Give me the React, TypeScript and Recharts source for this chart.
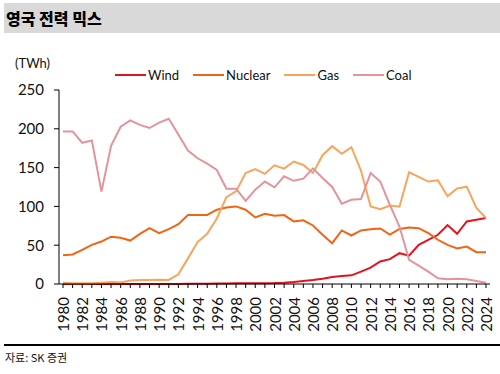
import { LineChart, Line, XAxis, YAxis } from 'recharts'

const years = Array.from({ length: 45 }, (_, i) => String(1980 + i))

const wind = [
  0, 0, 0, 0, 0, 0, 0, 0, 0, 0, 0,
  0.1, 0.1, 0.2, 0.3, 0.4, 0.5, 0.7, 0.9, 0.9, 0.9,
  1, 1.2, 1.7, 2.6, 3.9, 5.2, 6.9, 9, 10.3, 11.2,
  16, 21, 29, 32, 39.7, 36.6, 50.4, 57, 63.4, 75.9,
  64.7, 80.6, 82.8, 85,
]
const nuclear = [
  37, 38, 44, 50.4, 54.7, 61, 59.5, 56, 64.6, 72, 65.5,
  70.7, 77, 89, 88.8, 89, 95.7, 98.7, 100, 95.7, 85.8,
  90.5, 88, 88.8, 80.6, 82, 75.4, 63.4, 52.6, 69, 62.5,
  69, 70.7, 71.5, 63.8, 71, 72.8, 72, 65.5, 57, 50.4,
  45.7, 48.3, 41, 41,
]
const gas = [
  1.5, 1, 1, 1, 1.5, 2.5, 2, 4.5, 5, 5, 5.5,
  5.2, 12.5, 33, 54, 64.7, 84.5, 112, 119.4, 143, 148,
  142, 153, 148.7, 157.8, 153.4, 143, 166, 177.6, 167.7, 176.3,
  146, 100, 96.5, 101, 99.6, 144, 138, 132, 133.6, 113,
  123, 125.4, 98, 85,
]
const coal = [
  196.6, 196.6, 182, 185, 119, 178, 202.6, 210.8, 205, 201, 208,
  213, 192.7, 172, 162, 155, 147, 122.8, 122.8, 107, 121.5,
  132, 124.6, 138.8, 133, 135.8, 149, 136.6, 125, 103.4, 108.6,
  109.5, 143, 132, 102, 74, 31, 23.7, 16, 7.3, 6,
  6.9, 6, 3.9, 1.7,
]
const yTicks = [0, 50, 100, 150, 200, 250]

const series = [
  { key: 'Wind', values: wind, color: '#E4121C' },
  { key: 'Nuclear', values: nuclear, color: '#F06414' },
  { key: 'Gas', values: gas, color: '#F7A55C' },
  { key: 'Coal', values: coal, color: '#E5939B' },
]

const data = years.map((year, i) => ({
  year,
  Wind: wind[i],
  Nuclear: nuclear[i],
  Gas: gas[i],
  Coal: coal[i],
}))

const FONT = 'Lato, "Noto Sans", sans-serif'

// labels only on even years, tick marks on every year
const YearTick = ({ x, y, payload }: any) => {
  const yr = Number(payload.value)
  if (yr % 2 !== 0) return null
  return (
    <text
      x={x}
      y={y + 7}
      transform={`rotate(-90, ${x}, ${y + 7})`}
      textAnchor="end"
      dominantBaseline="central"
      fontSize={15}
      fill="#111"
      fontFamily={FONT}
    >
      {payload.value}
    </text>
  )
}

export default function App() {
  return (
    <div style={{ position: 'absolute', left: 0, top: 0, width: 500, height: 374, background: '#fff' }}>
      <div
        style={{
          position: 'absolute', left: 4, top: 3, width: 496, height: 30,
          background: '#D9D9D9',
        }}
      >
        <span
          style={{
            position: 'absolute', left: 2, top: 3,
            fontFamily: '"Noto Sans CJK KR", sans-serif', fontWeight: 900, fontSize: 16, color: '#000',
          }}
        >
          영국 전력 믹스
        </span>
      </div>
      <div
        style={{
          position: 'absolute', left: 15, top: 55, fontFamily: FONT, fontSize: 13, color: '#111',
        }}
      >
        (TWh)
      </div>
      <div
        style={{
          position: 'absolute', left: 115, top: 67, display: 'flex',
          fontFamily: FONT, fontSize: 13, color: '#111',
        }}
      >
        {series.map(s => (
          <div key={s.key} style={{ display: 'flex', alignItems: 'center', marginRight: 14 }}>
            <span style={{ width: 31, height: 2, background: s.color, marginRight: 2 }} />
            {s.key}
          </div>
        ))}
      </div>
      <div style={{ position: 'absolute', left: 0, top: 0 }}>
        <LineChart
          width={500}
          height={374}
          data={data}
          margin={{ top: 90, right: 10, bottom: 0, left: 0 }}
        >
          <XAxis
            dataKey="year"
            interval={0}
            height={90}
            padding={{ left: 4, right: 4 }}
            tick={<YearTick />}
            tickSize={4}
            axisLine={{ stroke: '#000' }}
            tickLine={{ stroke: '#000' }}
          />
          <YAxis
            width={59}
            domain={[0, 250]}
            ticks={yTicks}
            tickSize={5}
            tickMargin={10}
            axisLine={{ stroke: '#000' }}
            tickLine={{ stroke: '#000' }}
            tick={{ fontSize: 15, fill: '#111', fontFamily: FONT }}
          />
          {series.map(s => (
            <Line
              key={s.key}
              dataKey={s.key}
              stroke={s.color}
              strokeWidth={2}
              dot={false}
              isAnimationActive={false}
            />
          ))}
        </LineChart>
      </div>
      <div
        style={{
          position: 'absolute', left: 4, top: 344, width: 496, height: 1.5, background: '#000',
        }}
      />
      <div
        style={{
          position: 'absolute', left: 5, top: 349,
          fontFamily: '"Noto Sans CJK KR", sans-serif', fontSize: 11, color: '#111',
        }}
      >
        자료: SK 증권
      </div>
    </div>
  )
}
